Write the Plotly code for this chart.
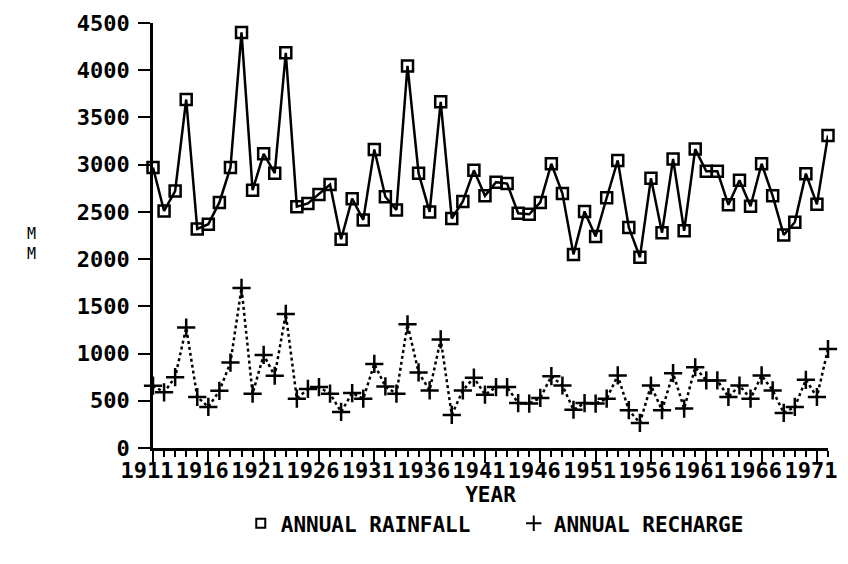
import plotly.graph_objects as go

years = list(range(1911, 1973))

rainfall = [2970, 2510, 2720, 3690, 2320, 2370, 2600, 2970, 4400, 2730,
            3115, 2910, 4185, 2555, 2590, 2685, 2790, 2210, 2640, 2415,
            3160, 2660, 2520, 4045, 2910, 2500, 3665, 2430, 2610, 2940,
            2670, 2815, 2800, 2485, 2475, 2600, 3010, 2695, 2050, 2505,
            2240, 2650, 3045, 2335, 2020, 2855, 2280, 3060, 2300, 3165,
            2930, 2930, 2575, 2835, 2560, 3010, 2670, 2255, 2390, 2905,
            2580, 3310]

recharge = [660, 590, 750, 1275, 540, 435, 605, 905, 1695, 575,
            985, 765, 1420, 522, 625, 645, 575, 382, 582, 522,
            890, 652, 575, 1310, 800, 610, 1150, 350, 610, 745,
            565, 645, 645, 476, 470, 530, 760, 662, 405, 476,
            470, 522, 768, 400, 266, 662, 400, 792, 417, 855,
            715, 715, 540, 662, 522, 768, 610, 371, 435, 722,
            540, 1048]

y_ticks = list(range(0, 4501, 500))
x_label_years = list(range(1911, 1972, 5))

FONT = "DejaVu Sans Mono"

fig = go.Figure()

fig.add_trace(go.Scatter(
    x=years, y=rainfall, mode="lines+markers", name="ANNUAL RAINFALL",
    line=dict(color="black", width=2.5),
    marker=dict(symbol="square-open", size=11, color="black",
                line=dict(width=2.5, color="black")),
    cliponaxis=False, showlegend=False))

fig.add_trace(go.Scatter(
    x=years, y=recharge, mode="lines+markers", name="ANNUAL RECHARGE",
    line=dict(color="black", width=2.5, dash="dot"),
    marker=dict(symbol="cross-thin-open", size=13, color="black",
                line=dict(width=2.5, color="black")),
    cliponaxis=False, showlegend=False))

# legend proxies (marker only, as in the reference)
fig.add_trace(go.Scatter(
    x=[None], y=[None], mode="markers", name="ANNUAL RAINFALL",
    marker=dict(symbol="square-open", size=9, color="black",
                line=dict(width=2, color="black"))))
fig.add_trace(go.Scatter(
    x=[None], y=[None], mode="markers", name="ANNUAL RECHARGE",
    marker=dict(symbol="cross-thin-open", size=11, color="black",
                line=dict(width=2, color="black"))))

fig.update_layout(
    width=848, height=564,
    margin=dict(l=153, r=11, t=20, b=116),
    paper_bgcolor="white", plot_bgcolor="white",
    font=dict(family=FONT, color="black", size=20),
    showlegend=True,
    legend=dict(orientation="h", x=0.13, xanchor="left",
                y=-0.178, yanchor="middle",
                font=dict(family=FONT, size=21, color="black", weight="bold"),
                entrywidth=228, entrywidthmode="pixels",
                bgcolor="rgba(0,0,0,0)"),
    xaxis=dict(
        range=[1911, 1972], showgrid=False, zeroline=False,
        showline=True, linecolor="black", linewidth=2.5,
        tickmode="array", tickvals=x_label_years,
        ticktext=[str(v) for v in x_label_years],
        ticks="outside", ticklen=12, tickwidth=2, tickcolor="black",
        ticklabelshift=-6, ticklabelstandoff=-11,
        tickfont=dict(family=FONT, size=22, color="black", weight="bold"),
        minor=dict(tickmode="linear", tick0=1911, dtick=1, ticks="outside",
                   ticklen=6, tickwidth=2, tickcolor="black", showgrid=False),
        title=dict(text="YEAR",
                   font=dict(family=FONT, size=21, color="black", weight="bold"),
                   standoff=4),
    ),
    yaxis=dict(
        range=[0, 4500], showgrid=False, zeroline=False,
        showline=True, linecolor="black", linewidth=2.5,
        tickmode="array", tickvals=y_ticks,
        ticktext=[str(v) for v in y_ticks],
        ticks="outside", ticklen=12, tickwidth=2, tickcolor="black",
        ticklabelstandoff=4,
        tickfont=dict(family=FONT, size=22, color="black", weight="bold"),
    ),
    annotations=[dict(text="M<br>M", xref="paper", yref="paper",
                      x=-0.18, y=0.48, xanchor="center", yanchor="middle",
                      showarrow=False,
                      font=dict(family=FONT, size=15, color="black"))],
)

fig.write_html("out.html")
